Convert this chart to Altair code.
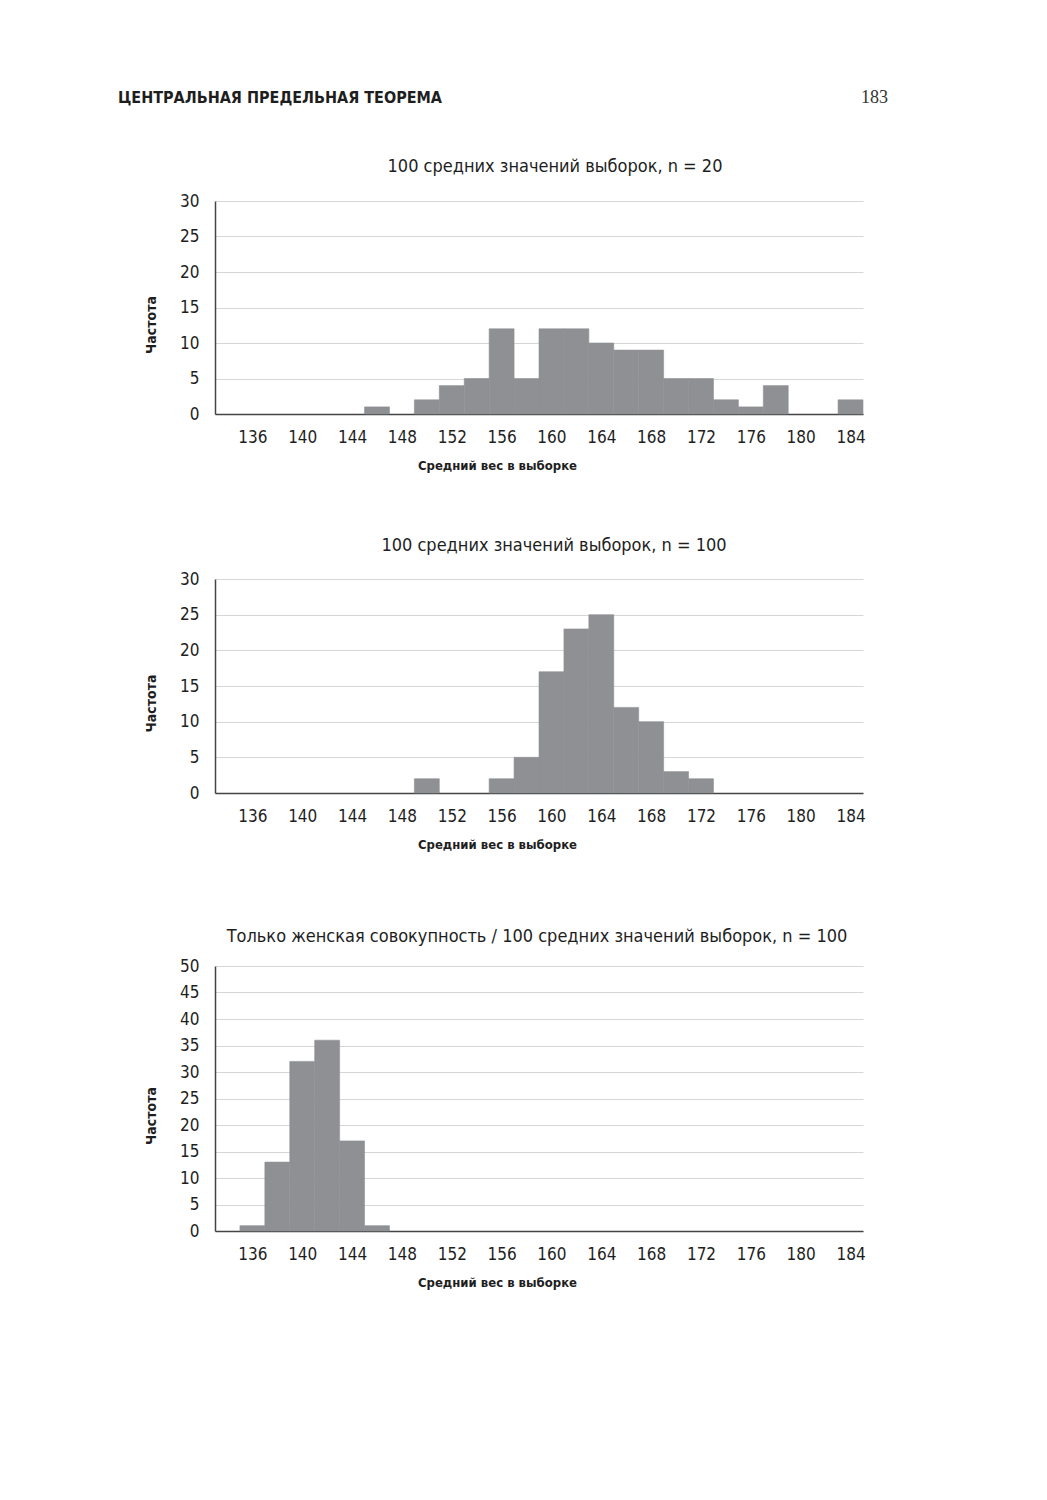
import altair as alt
import pandas as pd

# ---- data ----
bin_centers = [134, 136, 138, 140, 142, 144, 146, 148, 150, 152, 154, 156, 158,
               160, 162, 164, 166, 168, 170, 172, 174, 176, 178, 180, 182, 184]
counts_n20 = [0, 0, 0, 0, 0, 0, 1, 0, 2, 4, 5, 12, 5,
              12, 12, 10, 9, 9, 5, 5, 2, 1, 4, 0, 0, 2]
counts_n100 = [0, 0, 0, 0, 0, 0, 0, 0, 2, 0, 0, 2, 5,
               17, 23, 25, 12, 10, 3, 2, 0, 0, 0, 0, 0, 0]
counts_female = [0, 1, 13, 32, 36, 17, 1, 0, 0, 0, 0, 0, 0,
                 0, 0, 0, 0, 0, 0, 0, 0, 0, 0, 0, 0, 0]
x_ticks = [136, 140, 144, 148, 152, 156, 160, 164, 168, 172, 176, 180, 184]
y_ticks_30 = [0, 5, 10, 15, 20, 25, 30]
y_ticks_50 = [0, 5, 10, 15, 20, 25, 30, 35, 40, 45, 50]

titles = [
    "100 средних значений выборок, n = 20",
    "100 средних значений выборок, n = 100",
    "Только женская совокупность / 100 средних значений выборок, n = 100",
]
x_title = "Средний вес в выборке"
y_title = "Частота"
header_text = "ЦЕНТРАЛЬНАЯ ПРЕДЕЛЬНАЯ ТЕОРЕМА"
page_number = "183"

FONT = "DejaVu Sans Condensed, Roboto, sans-serif"
BAR = "#8e9093"
TXT = "#1e1e1e"
W = 648


def hist(counts, title, ymax, yticks, height, title_offset, title_dx):
    df = pd.DataFrame({"center": bin_centers, "count": counts})
    df = df[df["count"] > 0]
    return (
        alt.Chart(df)
        .transform_calculate(lo="datum.center - 1", hi="datum.center + 1")
        .mark_rect(color=BAR, stroke=BAR, strokeWidth=0.6)
        .encode(
            x=alt.X(
                "lo:Q",
                scale=alt.Scale(domain=[133, 185], nice=False, zero=False),
                axis=alt.Axis(values=x_ticks, title=x_title, grid=False, ticks=False,
                              labelPadding=15, titlePadding=14, format="d",
                              titleX=282, titleAlign="center"),
            ),
            x2="hi:Q",
            y=alt.Y(
                "count:Q",
                scale=alt.Scale(domain=[0, ymax], nice=False),
                axis=alt.Axis(values=yticks, title=y_title, grid=True, ticks=False,
                              labelPadding=16, titlePadding=21,
                              titleY=height / 2 + 17, titleAlign="center"),
            ),
            y2=alt.datum(0),
        )
        .properties(
            width=W,
            height=height,
            title=alt.TitleParams(title, offset=title_offset, dx=title_dx, fontSize=18,
                                  font=FONT, fontWeight="normal", color=TXT),
        )
    )


def spacer(h):
    return (
        alt.Chart(pd.DataFrame({"a": [0]}))
        .mark_point(opacity=0)
        .encode(x=alt.value(0), y=alt.value(0))
        .properties(width=W, height=h)
    )


hdf = pd.DataFrame({"t": [header_text], "p": [page_number]})
header = alt.layer(
    alt.Chart(hdf).mark_text(align="left", baseline="middle", font=FONT,
                             fontWeight="bold", fontSize=16, color=TXT)
    .encode(text="t:N", x=alt.value(-97), y=alt.value(7)),
    alt.Chart(hdf).mark_text(align="right", baseline="middle", font="Liberation Serif",
                             fontSize=18, color="#333")
    .encode(text="p:N", x=alt.value(673), y=alt.value(7)),
).properties(width=W, height=110)

c1 = hist(counts_n20, titles[0], 30, y_ticks_30, 213, 16, 16)
c2 = hist(counts_n100, titles[1], 30, y_ticks_30, 214, 15, 15)
c3 = hist(counts_female, titles[2], 50, y_ticks_50, 265, 11, -2)

chart = (
    alt.vconcat(header, c1, spacer(165), c2, spacer(173), c3, spacing=0, bounds="flush")
    .properties(padding={"left": 117, "top": 88, "right": 20, "bottom": 20})
    .configure_view(stroke="transparent")
    .configure_axis(
        labelFont=FONT, labelFontSize=17, labelColor=TXT,
        titleFont=FONT, titleFontSize=14, titleFontWeight="bold", titleColor=TXT,
        domainColor="#444", domainWidth=1.5, gridColor="#d6d6d6", gridWidth=1,
    )
    .configure_axisX(titleFontSize=13)
)

chart.save("out.html", embed_options={"renderer": "svg", "actions": False})
